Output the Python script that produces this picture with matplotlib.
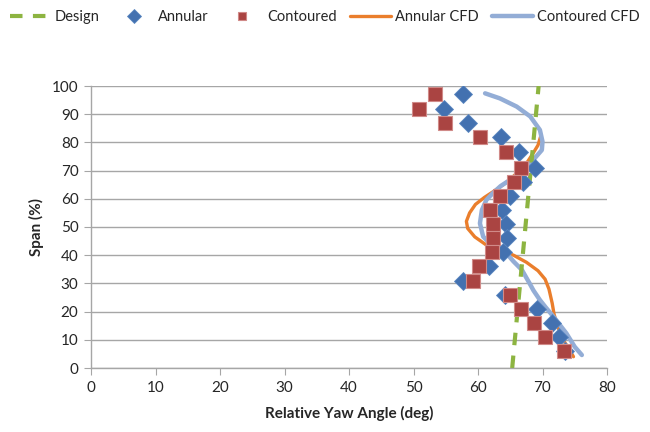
import matplotlib
matplotlib.use("Agg")
import matplotlib.pyplot as plt

# Measured relative yaw angle vs span
span = [97, 92, 87, 82, 76.5, 71, 66, 61, 56, 51, 46, 41, 36, 31, 26, 21, 16, 11, 6]
annular = [57.7, 54.7, 58.5, 63.6, 66.4, 68.8, 67.0, 64.9, 63.7, 64.3, 64.5, 63.9,
           61.7, 57.7, 64.2, 69.1, 71.5, 72.5, 73.5]
contoured = [53.4, 50.9, 54.9, 60.3, 64.3, 66.6, 65.6, 63.4, 61.9, 62.3, 62.4, 62.1,
             60.2, 59.3, 65.0, 66.7, 68.7, 70.4, 73.4]

# Design intent
design_yaw = [65.3, 69.4]
design_span = [0, 100]

# CFD predictions
annular_cfd_yaw = [74.8, 74.3, 73.2, 72.3, 71.8, 71.5, 71.0, 70.4, 69.3, 67.5, 65.5,
                   63.5, 61.3, 59.5, 58.4, 58.2, 58.7, 59.6, 61.0, 63.0, 64.8, 66.2,
                   67.5, 68.5, 69.3, 69.7]
annular_cfd_span = [4, 6, 10, 15, 19, 23, 28, 31.5, 34.5, 37.5, 40, 41.8, 43.6, 46.5,
                    49.5, 52, 55, 58, 60.5, 63.5, 66.5, 69.5, 72.5, 76, 79, 82]
contoured_cfd_yaw = [76.1, 75.0, 73.7, 71.7, 70.5, 69.6, 68.6, 68.0, 66.8, 65.5, 64.4,
                     62.1, 60.8, 60.3, 60.6, 61.3, 62.3, 63.5, 65.5, 67.5, 68.8, 69.9,
                     70.0, 69.6, 68.1, 66.0, 63.4, 61.1]
contoured_cfd_span = [4.6, 7.5, 12.3, 18.2, 21.5, 24.1, 27.5, 30, 34.8, 37.8, 40.7,
                      43.6, 46.6, 51.3, 56, 59.6, 62, 64.5, 67.5, 70.8, 74.4, 77.3,
                      80.3, 84.4, 89.2, 92.7, 95.6, 97.4]

xticks = [0, 10, 20, 30, 40, 50, 60, 70, 80]
yticks = [0, 10, 20, 30, 40, 50, 60, 70, 80, 90, 100]

plt.rcParams['font.family'] = ['Lato', 'DejaVu Sans']

fig = plt.figure(figsize=(6.5, 4.32), dpi=100)
ax = fig.add_axes([91 / 650, 1 - 368 / 432, (607 - 91) / 650, (368 - 86) / 432])

grid_c = '#A6A6A6'
ax.set_xlim(0, 80)
ax.set_ylim(0, 100)
ax.set_xticks(xticks)
ax.set_yticks(yticks)
ax.yaxis.grid(True, color=grid_c, linewidth=1.0)
ax.set_axisbelow(True)
for s in ['top', 'right']:
    ax.spines[s].set_visible(False)
for s in ['left', 'bottom']:
    ax.spines[s].set_color(grid_c)
    ax.spines[s].set_linewidth(1.0)
ax.tick_params(axis='both', direction='out', length=5, color=grid_c,
               labelsize=11, labelcolor='#262626', pad=4)

green = '#8DB441'
blue_m = '#4371B0'
red_m = '#AA4442'
orange = '#EA7E2C'
light_blue = '#93ADD6'

ax.plot(design_yaw, design_span, color=green, linestyle=(0, (3, 2.5)), linewidth=3,
        label='Design', zorder=3)
ax.plot(annular, span, linestyle='none', marker='D', markersize=9, color=blue_m,
        markeredgecolor='#5A86C0', markeredgewidth=0.6, label='Annular', zorder=4)
ax.plot(contoured, span, linestyle='none', marker='s', markersize=10.5, color=red_m,
        markeredgecolor='#D08A88', markeredgewidth=0.8, label='Contoured', zorder=5)
ax.plot(annular_cfd_yaw, annular_cfd_span, color=orange, linewidth=2.4,
        solid_capstyle='round', solid_joinstyle='round', label='Annular CFD', zorder=2)
ax.plot(contoured_cfd_yaw, contoured_cfd_span, color=light_blue, linewidth=3.2,
        solid_capstyle='round', solid_joinstyle='round', label='Contoured CFD', zorder=2.5)

ax.set_xlabel('Relative Yaw Angle (deg)', fontsize=11, fontweight='bold', color='#262626', labelpad=8)
ax.set_ylabel('Span (%)', fontsize=11, fontweight='bold', color='#262626', labelpad=6)

handles, labels = ax.get_legend_handles_labels()
leg = fig.legend(handles, labels, loc='center', bbox_to_anchor=(325 / 650, 1 - 17 / 432),
                 ncol=5, frameon=False, fontsize=10.5, handlelength=2.8,
                 handletextpad=0.3, columnspacing=0.9, labelcolor='#262626')
leg.legend_handles[1].set_markersize(7)
leg.legend_handles[2].set_markersize(6)

fig.savefig('out.png', dpi=100)
